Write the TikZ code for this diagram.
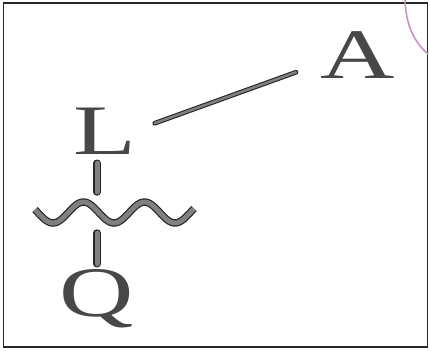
\documentclass[tikz,border=0pt]{standalone}
\usepackage{fontspec}
\setmainfont{Liberation Serif}

\begin{document}
\begin{tikzpicture}[x=1pt,y=-1pt,
  letter/.style={inner sep=0pt,anchor=base,text=black!72,xscale=1.45,font=\fontsize{71}{71}\selectfont},
  bond/.style={draw=black!85,line width=1.1pt,double=black!50,double distance=2.5pt,line cap=round},
  thickbond/.style={bond,line width=1.2pt,double distance=5pt}]
\useasboundingbox (0,0) rectangle (430,350);
\draw[black!85,line width=1.8pt] (3.5,3) rectangle (427.5,347);
\draw[violet!45,line width=1.5pt] (405,0) .. controls (406,25) and (414,42) .. (428,54);
\node[letter] (L) at (104.5,154) {L};
\node[letter] (A) at (357.5,78) {A};
\node[letter] (Q) at (97,316) {Q};
\coordinate (wt) at (97,192);
\coordinate (wb) at (97,233);
\draw[bond] ([xshift=18.5pt,yshift=7.5pt]L.east) -- ([xshift=-24pt,yshift=6pt]A.south west);
\draw[thickbond] ([xshift=-7.5pt,yshift=-9pt]L.south) -- (wt);
\draw[thickbond,line cap=butt] plot[domain=35:194,samples=80] (\x,{212.5-10.5*cos(5.9016*(\x-83.5))});
\draw[thickbond] (wb) -- ([yshift=5pt]Q.north);
\end{tikzpicture}
\end{document}
